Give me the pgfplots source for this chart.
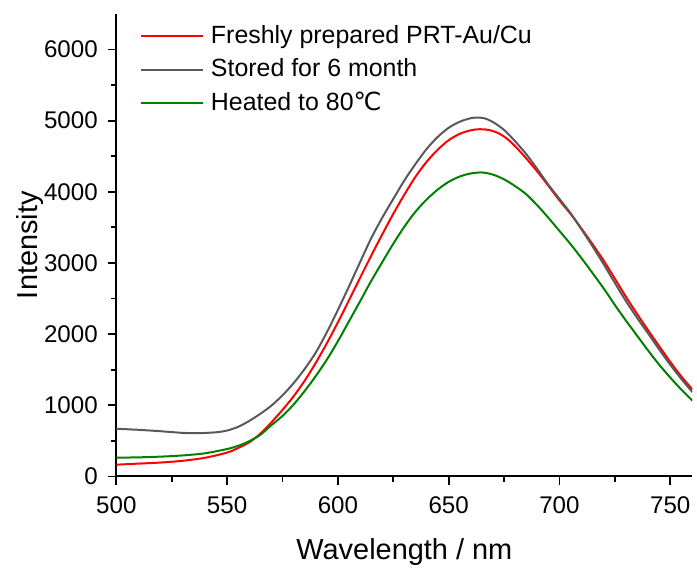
\documentclass[border=0pt]{standalone}
\usepackage{fontspec}
\setmainfont{Liberation Sans}
\newfontfamily\djv{DejaVu Sans}
\usepackage{pgfplots}
\pgfplotsset{compat=1.18}

\definecolor{cgray}{RGB}{89,89,89}
\definecolor{cgreen}{RGB}{0,128,0}

\begin{document}
\begin{tikzpicture}
\begin{axis}[
  scale only axis,
  width=289pt, height=232pt,
  xmin=500, xmax=760, ymin=0, ymax=6500,
  axis lines=left,
  axis line style={-, line width=1pt},
  tick align=outside,
  tick style={line width=0.9pt, black},
  major tick length=4.3pt,
  minor tick length=2.6pt,
  xtick={500,550,...,750},
  ytick={0,1000,...,6000},
  minor x tick num=1,
  minor y tick num=1,
  /pgf/number format/assume math mode=true,
  /pgf/number format/1000 sep={},
  tick label style={font=\fontsize{12.1}{14}\selectfont},
  xticklabel style={yshift=-2.5pt},
  yticklabel style={xshift=-1.5pt},
  xlabel={Wavelength / nm},
  ylabel={Intensity},
  label style={font=\fontsize{14.5}{17}\selectfont},
  xlabel style={yshift=-5.5pt},
  ylabel shift=-6.5pt,
  legend cell align=left,
  legend style={draw=none, fill=none, inner sep=0pt,
    at={(rel axis cs:0,1)}, anchor=north west, xshift=11.8pt, yshift=-5.3pt,
    font=\fontsize{12.5}{14}\selectfont, row sep=5.2pt,
    nodes={inner sep=0pt, text height=9.2pt, text depth=2.4pt}},
  legend image code/.code={\draw[#1] (0pt,0pt) -- (31pt,0pt);},
  every axis plot/.append style={line width=1pt, smooth},
]
% freshly prepared
\addplot[red] coordinates {
(500,165) (510,180) (520,195) (530,220) (540,262) (550,335) (555,400)
(560,480) (565,600) (570,760) (575,935) (580,1125) (585,1345) (590,1595)
(595,1870) (600,2165) (605,2475) (610,2790) (615,3100) (620,3400)
(625,3690) (630,3960) (635,4210) (640,4420) (645,4590) (650,4725)
(655,4815) (660,4865) (664,4880) (668,4870) (672,4830) (676,4755)
(680,4640) (685,4470) (690,4285) (695,4085) (700,3880) (705,3690)
(710,3480) (715,3260) (720,3030) (725,2780) (730,2525) (735,2285)
(740,2055) (745,1830) (750,1610) (755,1405) (760,1222)
};
\addlegendentry{\hspace{3.5pt}Freshly prepared PRT-Au/Cu}
% stored for 6 months
\addplot[cgray] coordinates {
(500,670) (510,655) (520,635) (530,612) (537,608) (545,620) (550,645)
(555,697) (560,780) (565,880) (570,995) (575,1140) (580,1310) (585,1510)
(590,1740) (595,2025) (600,2340) (605,2670) (610,3010) (615,3345)
(620,3635) (625,3900) (630,4160) (635,4390) (640,4600) (645,4770)
(650,4900) (655,4985) (660,5035) (663,5042) (666,5035) (670,4980)
(675,4870) (680,4710) (685,4530) (690,4320) (695,4100) (700,3900)
(705,3700) (710,3470) (715,3230) (720,2980) (725,2720) (730,2465)
(735,2230) (740,2010) (745,1785) (750,1570) (755,1370) (760,1185)
};
\addlegendentry{\hspace{3.5pt}Stored for 6 month}
% heated to 80 C
\addplot[cgreen] coordinates {
(500,263) (510,268) (520,278) (530,295) (540,325) (550,385) (555,430)
(560,495) (565,585) (570,720) (575,850) (580,1010) (585,1200) (590,1410)
(595,1640) (600,1900) (605,2180) (610,2460) (615,2745) (620,3010)
(625,3270) (630,3510) (635,3720) (640,3890) (645,4030) (650,4140)
(655,4215) (660,4258) (665,4272) (670,4242) (675,4175) (680,4080)
(685,3965) (690,3810) (695,3635) (700,3450) (705,3265) (710,3065)
(715,2855) (720,2640) (725,2410) (730,2190) (735,1980) (740,1770)
(745,1570) (750,1390) (755,1220) (760,1065)
};
\addlegendentry{\hspace{3.5pt}Heated to 80{\djv ℃}}
\end{axis}
\path[use as bounding box] ([xshift=-58.35pt,yshift=-45.15pt]current axis.south west)
  rectangle ([xshift=1pt,yshift=7pt]current axis.north east);
\end{tikzpicture}
\end{document}
